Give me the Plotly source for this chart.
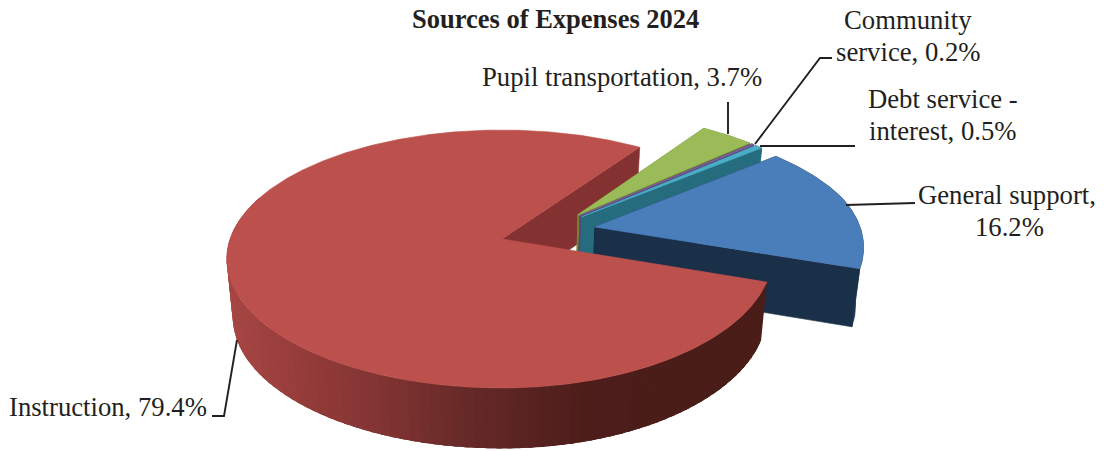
import numpy as np
import plotly.graph_objects as go

# Expense shares, clockwise from the far edge of the Instruction wedge
categories = ["Pupil transportation", "Community service", "Debt service - interest", "General support", "Instruction"]
shares = [3.7, 0.2, 0.5, 16.2, 79.4]

# Projection of the disc's plane on to the page
CX, CY, AX, BY, PERSP = 502.0, 239.0, 272.0, 125.9, 0.155
NEAR_RIGHT_PULL, PULL_FROM = 9.4, -0.35
DEPTH, TAPER_X, TAPER_Y = 57.5, 0.022, 0.02
START_ANGLE = -55.2

# Per-wedge offset in the disc's plane, and colours (top, near wall, far wall)
offsets = [(0.288, -0.197), (0.295, -0.19), (0.302, -0.18), (0.348, -0.097), (0.0, 0.0)]
tops = ["#9BBB59", "#8064A2", "#4BACC6", "#4A7EBB", "#BC504C"]
near_walls = ["#6B8A2E", "#5A4478", "#256C7F", "#1A3049", "#4A1D19"]
far_walls = ["#6B8A2E", "#5A4478", "#256C7F", "#1A3049", "#833231"]

# Shading along the Instruction rim, by page x
shade_x = [225, 300, 400, 500, 600, 680, 780]
shade_r = [168, 152, 128, 98, 78, 74, 74]
shade_g = [72, 62, 52, 40, 30, 29, 29]
shade_b = [70, 60, 50, 38, 27, 25, 25]


def project(u, v):
    u, v = np.asarray(u, float), np.asarray(v, float)
    w = 1 - PERSP * v
    pull = NEAR_RIGHT_PULL * np.clip(u, 0, None) * np.clip(v - PULL_FROM, 0, None)
    return CX + AX * u / w - pull, CY + BY * v / w


def lower(x, y):
    x, y = np.asarray(x, float), np.asarray(y, float)
    return x + (CX - x) * TAPER_X, y + DEPTH + (y - CY) * TAPER_Y


fig = go.Figure()


def poly(x, y, color, edge=0.6):
    fig.add_trace(go.Scatter(
        x=list(x), y=list(y), mode="lines", fill="toself", fillcolor=color,
        line=dict(color=color, width=edge), hoverinfo="skip", showlegend=False,
    ))


def wedge_outline(i, a0, a1):
    t = np.radians(np.linspace(a0, a1, max(int(a1 - a0) * 2, 4)))
    ox, oy = offsets[i]
    return project(ox + np.cos(t), oy + np.sin(t)), project([ox], [oy])


def radial_wall(i, angle, color):
    ox, oy = offsets[i]
    t = np.radians(angle)
    ex, ey = project([ox, ox + np.cos(t)], [oy, oy + np.sin(t)])
    bx, by = lower(ex, ey)
    poly([ex[0], ex[1], bx[1], bx[0]], [ey[0], ey[1], by[1], by[0]], color)


def rim_band(ox, oy, a0, a1, color, edge=0.6):
    t = np.radians(np.linspace(a0, a1, max(int(abs(a1 - a0)) * 2, 4)))
    x, y = project(ox + np.cos(t), oy + np.sin(t))
    bx, by = lower(x, y)
    poly(np.r_[x, bx[::-1]], np.r_[y, by[::-1]], color, edge)


def rim(i, a0, a1):
    rim_band(*offsets[i], a0, a1, near_walls[i])


def shaded_rim(i, a0, a1):
    # Each band reaches over the next one, so no seams show between them
    ox, oy = offsets[i]
    visible_end = min(a1, 200.0)
    for s in np.arange(visible_end - 2.0, a0 - 2.0, -2.0):
        s = max(s, a0)
        t = np.radians(s + 1.0)
        mid, _ = project(ox + np.cos(t), oy + np.sin(t))
        color = "rgb(%d,%d,%d)" % (
            np.interp(mid, shade_x, shade_r),
            np.interp(mid, shade_x, shade_g),
            np.interp(mid, shade_x, shade_b),
        )
        rim_band(ox, oy, s, min(s + 5.0, visible_end), color, 0)


# Angular span of every wedge, derived from its share
sweeps = [s * 3.6 for s in shares]
starts = START_ANGLE + np.r_[0, np.cumsum(sweeps)[:-1]]
ends = starts + np.array(sweeps)

# Back to front: the Instruction cut face first, its top and rim last
radial_wall(4, ends[4], far_walls[4])
for i in range(4):
    radial_wall(i, starts[i], far_walls[i])
    rim(i, starts[i], ends[i])
    radial_wall(i, ends[i], near_walls[i])
    (ax, ay), (px, py) = wedge_outline(i, starts[i], ends[i])
    poly(np.r_[px, ax, px], np.r_[py, ay, py], tops[i])

shaded_rim(4, starts[4], ends[4])
(ax, ay), (px, py) = wedge_outline(4, starts[4], ends[4])
poly(np.r_[px, ax, px], np.r_[py, ay, py], tops[4])

# Leader lines
INK = "#231F20"
leaders = [
    ([728, 728], [102, 134]),
    ([832, 820, 755], [58, 58, 144]),
    ([855, 760], [146, 146]),
    ([915, 846], [203, 205]),
    ([212, 224, 237], [416, 416, 340]),
]
for lx, ly in leaders:
    fig.add_trace(go.Scatter(x=lx, y=ly, mode="lines", line=dict(color=INK, width=1.9),
                             hoverinfo="skip", showlegend=False))

# Text
SERIF = "Liberation Serif"
text_rows = [
    (f"{categories[0]}, {shares[0]}%", 621.5, 77),
    ("Community", 908, 20),
    (f"service, {shares[1]}%", 908, 52),
    ("Debt service -", 943, 99),
    (f"interest, {shares[2]}%", 943, 131),
    ("General support,", 1007, 195),
    (f"{shares[3]}%", 1009, 227),
    (f"{categories[4]}, {shares[4]}%", 108, 407),
]
annotations = [
    dict(x=x, y=y, xref="x", yref="y", text=t, showarrow=False, xanchor="center", yanchor="middle",
         font=dict(family=SERIF, size=26.7, color=INK))
    for t, x, y in text_rows
]
annotations.append(dict(x=555, y=19, xref="x", yref="y", text="<b>Sources of Expenses 2024</b>",
                        showarrow=False, xanchor="center", yanchor="middle",
                        font=dict(family=SERIF, size=26.5, color=INK)))

fig.update_layout(
    width=1106, height=451, autosize=False, margin=dict(l=0, r=0, t=0, b=0),
    paper_bgcolor="white", plot_bgcolor="white", showlegend=False,
    xaxis=dict(range=[0, 1106], visible=False, fixedrange=True),
    yaxis=dict(range=[451, 0], visible=False, fixedrange=True),
    annotations=annotations,
)
fig.write_html("out.html")
